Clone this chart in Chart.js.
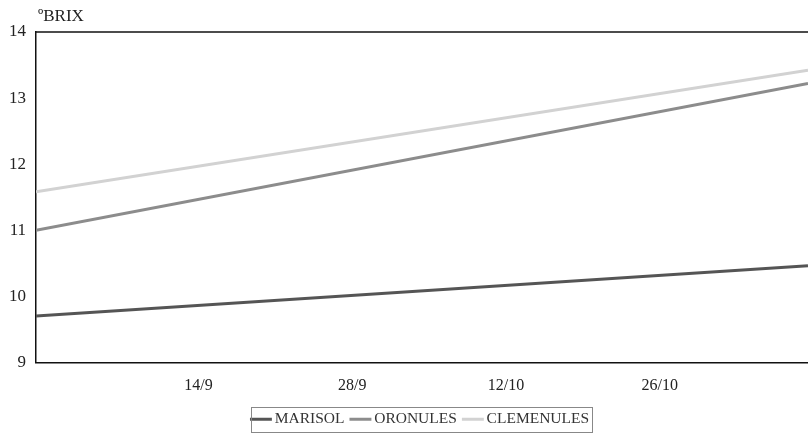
<!DOCTYPE html>
<html>
<head>
<meta charset="utf-8">
<script src="https://cdn.jsdelivr.net/npm/chart.js@4.4.0/dist/chart.umd.min.js"></script>
<style>
  html, body { margin: 0; padding: 0; background: #fff; }
  #wrap { width: 808px; height: 437px; }
</style>
</head>
<body>
<div id="wrap"><canvas id="brixChart"></canvas></div>
<script>
// Data
const seriesNames = ['MARISOL', 'ORONULES', 'CLEMENULES'];
const dayLabels = ['14/9', '28/9', '12/10', '26/10'];
const tickDays = [13, 27, 41, 55];       // days counted from 1/9
const sampleDays = [-1.8, 68.5];         // first and last sampling
const marisol = [9.70, 10.46];
const oronules = [11.00, 13.22];
const clemenules = [11.58, 13.42];
const yTicks = [9, 10, 11, 12, 13, 14];

const lineColors = ['#555555', '#8c8c8c', '#d2d2d2'];

function points(values) {
    return values.map((v, i) => ({ x: sampleDays[i], y: v }));
}

// top frame line, unit label, box round the legend items
const framePlugin = {
    id: 'frame',
    afterDraw(chart) {
        const c = chart.ctx;
        const a = chart.chartArea;
        c.save();
        c.strokeStyle = '#111';
        c.lineWidth = 1.5;
        c.beginPath();
        c.moveTo(a.left, a.top);
        c.lineTo(a.right, a.top);
        c.stroke();
        c.fillStyle = '#222';
        c.font = '17px "Liberation Serif"';
        c.textBaseline = 'alphabetic';
        c.fillText('\u00BABRIX', a.left + 2, a.top - 11);

        const boxes = chart.legend.legendHitBoxes;
        if (boxes && boxes.length) {
            const l = Math.min(...boxes.map(b => b.left)) - 4;
            const r = Math.max(...boxes.map(b => b.left + b.width)) + 3;
            const t = Math.min(...boxes.map(b => b.top)) - 5;
            const btm = Math.max(...boxes.map(b => b.top + b.height)) + 4;
            c.strokeStyle = '#888';
            c.lineWidth = 1;
            c.strokeRect(Math.round(l) + 0.5, Math.round(t) + 0.5, Math.round(r - l), Math.round(btm - t));
        }
        c.restore();
    }
};

new Chart(document.getElementById('brixChart'), {
    type: 'line',
    data: {
        datasets: [marisol, oronules, clemenules].map((vals, i) => ({
            label: seriesNames[i],
            data: points(vals),
            borderColor: lineColors[i],
            backgroundColor: lineColors[i],
            borderWidth: 3,
            pointRadius: 0,
            tension: 0
        }))
    },
    options: {
        responsive: true,
        maintainAspectRatio: false,
        animation: false,
        layout: { padding: { top: 32, right: 0, left: 0, bottom: 0 } },
        scales: {
            x: {
                type: 'linear',
                min: sampleDays[0],
                max: sampleDays[1],
                grid: { display: false },
                border: { display: true, color: '#111', width: 1.5 },
                afterBuildTicks: scale => { scale.ticks = tickDays.map(v => ({ value: v })); },
                ticks: {
                    autoSkip: false,
                    maxRotation: 0,
                    padding: 6,
                    color: '#222',
                    font: { family: 'Liberation Serif', size: 16 },
                    callback: v => dayLabels[tickDays.indexOf(v)]
                }
            },
            y: {
                min: 9,
                max: 14,
                grid: { display: false },
                border: { display: true, color: '#111', width: 1.5 },
                afterBuildTicks: scale => { scale.ticks = yTicks.map(v => ({ value: v })); },
                afterFit: scale => { scale.width = 36; },
                ticks: {
                    padding: 2,
                    color: '#222',
                    font: { family: 'Liberation Serif', size: 17 }
                }
            }
        },
        plugins: {
            legend: {
                position: 'bottom',
                fullSize: false,
                labels: {
                    usePointStyle: true,
                    pointStyle: 'line',
                    boxWidth: 12,
                    padding: 10,
                    color: '#333',
                    font: { family: 'Liberation Serif', size: 15.5 }
                }
            },
            tooltip: { enabled: false }
        }
    },
    plugins: [framePlugin]
});
</script>
</body>
</html>
